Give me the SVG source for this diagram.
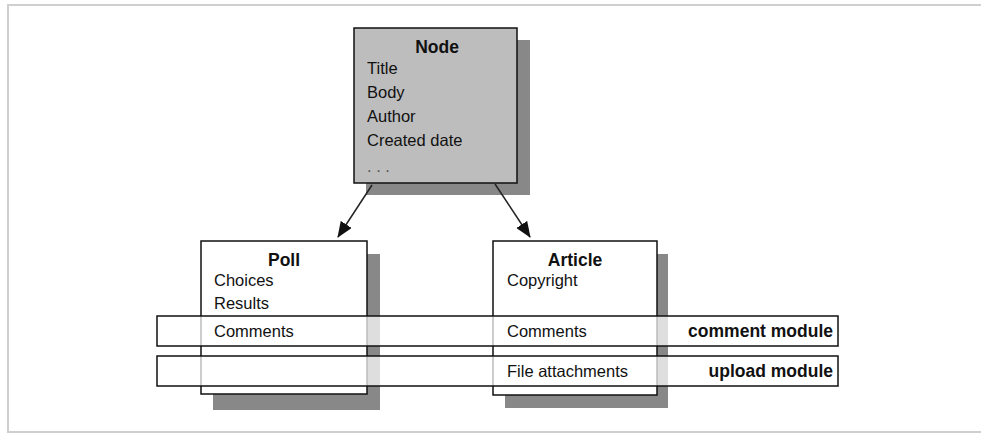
<svg xmlns="http://www.w3.org/2000/svg" width="981" height="435" viewBox="0 0 981 435">
<defs>
<style>
text{font-family:"Liberation Sans","DejaVu Sans",sans-serif;font-size:16.5px;fill:#111}
.b{font-weight:bold;font-size:17.5px}
.m{text-anchor:middle}
.e{text-anchor:end}
.dots{fill:#555}
.box{stroke:#111;stroke-width:1.5}
.sh{fill:#888}
.band{fill:#fff;fill-opacity:0.72;stroke:#111;stroke-width:1.5}
.con{stroke:#222;stroke-width:1.5;fill:none}
</style>
<marker id="ah" markerWidth="16" markerHeight="13" refX="15" refY="6.5" orient="auto" markerUnits="userSpaceOnUse">
<path d="M0,0 L16,6.5 L0,13 Z" fill="#111"/>
</marker>
</defs>
<rect width="981" height="435" fill="#fff"/>
<path d="M981,5 H8 V432 H981" fill="none" stroke="#cfcfcf" stroke-width="2"/>
<g id="node-node">
<rect class="sh" x="366" y="40" width="164" height="155"/>
<rect class="box" x="354" y="28" width="163" height="155" fill="#bdbdbd"/>
<text class="b m" x="437" y="53">Node</text>
<text x="367" y="74">Title</text>
<text x="367" y="98">Body</text>
<text x="367" y="122">Author</text>
<text x="367" y="146">Created date</text>
<text class="dots" x="367" y="172">. . .</text>
</g>
<g id="node-poll">
<rect class="sh" x="213" y="254" width="167" height="156"/>
<rect class="box" x="201" y="241" width="166" height="153" fill="#fff"/>
<text class="b m" x="284" y="266">Poll</text>
<text x="214" y="286">Choices</text>
<text x="214" y="309">Results</text>
</g>
<g id="node-article">
<rect class="sh" x="505" y="254" width="163" height="154"/>
<rect class="box" x="493" y="241" width="164" height="154" fill="#fff"/>
<text class="b m" x="575" y="266">Article</text>
<text x="507" y="286">Copyright</text>
</g>
<g id="node-comment-module">
<rect class="band" x="157" y="316" width="681" height="30"/>
<text x="214" y="337">Comments</text>
<text x="507" y="337">Comments</text>
<text class="b e" x="833" y="337">comment module</text>
</g>
<g id="node-upload-module">
<rect class="band" x="157" y="356" width="681" height="30"/>
<text x="507" y="377">File attachments</text>
<text class="b e" x="833" y="377">upload module</text>
</g>
<g id="connectors">
<line class="con" x1="372" y1="185" x2="338" y2="237" marker-end="url(#ah)"/>
<line class="con" x1="495" y1="184" x2="530" y2="237" marker-end="url(#ah)"/>
</g>
</svg>
